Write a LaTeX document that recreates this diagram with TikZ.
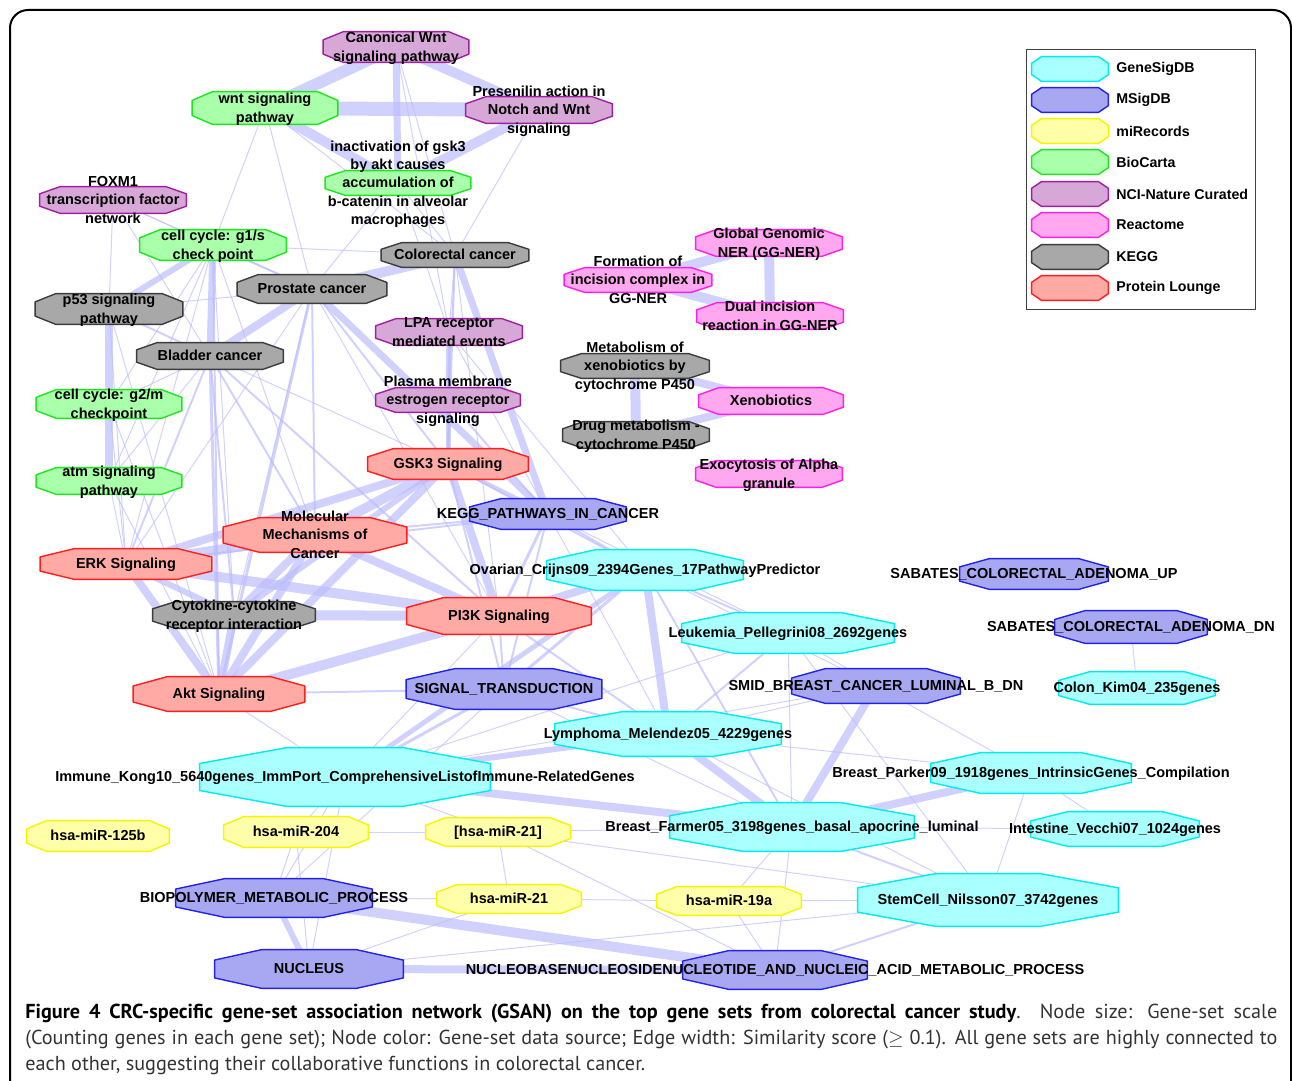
\documentclass[tikz,border=0pt]{standalone}
\usepackage{fontspec}
\setmainfont{Liberation Sans}
\newfontfamily\capfont{PT Sans}
\usetikzlibrary{calc}

% colours of the data sources
\definecolor{gsdbfill}{RGB}{170,255,255}  \definecolor{gsdbline}{RGB}{0,235,235}
\definecolor{msigfill}{RGB}{168,168,242}  \definecolor{msigline}{RGB}{35,35,230}
\definecolor{mirfill}{RGB}{255,255,170}   \definecolor{mirline}{RGB}{245,245,0}
\definecolor{biofill}{RGB}{170,255,170}   \definecolor{bioline}{RGB}{30,230,30}
\definecolor{ncifill}{RGB}{215,168,215}   \definecolor{nciline}{RGB}{160,30,160}
\definecolor{reactfill}{RGB}{255,168,240} \definecolor{reactline}{RGB}{255,30,230}
\definecolor{keggfill}{RGB}{168,168,168}  \definecolor{keggline}{RGB}{60,60,60}
\definecolor{plfill}{RGB}{255,170,165}    \definecolor{plline}{RGB}{255,30,30}
\definecolor{linkcol}{RGB}{185,185,255}

\pgfdeclarelayer{edgelayer}
\pgfdeclarelayer{shapelayer}
\pgfsetlayers{edgelayer,shapelayer,main}

\tikzset{
  gstext/.style={inner sep=0pt,font=\bfseries\fontsize{7.25}{9.2}\selectfont},
  gsshape/.style={line width=.7pt,line join=round},
  gsdb/.style={fill=gsdbfill,draw=gsdbline},
  msig/.style={fill=msigfill,draw=msigline},
  mir/.style={fill=mirfill,draw=mirline},
  bio/.style={fill=biofill,draw=bioline},
  nci/.style={fill=ncifill,draw=nciline},
  react/.style={fill=reactfill,draw=reactline},
  kegg/.style={fill=keggfill,draw=keggline},
  pl/.style={fill=plfill,draw=plline},
  link/.style={draw=linkcol,draw opacity=.65,line cap=round},
  legtext/.style={inner sep=0pt,anchor=west,font=\bfseries\fontsize{7.1}{9}\selectfont},
}

\newcommand\gslabel[1]{\makebox[0pt]{\smash{\raisebox{-2.4pt}{\begin{tabular}{@{}c@{}}#1\end{tabular}}}}}
% [inset] name, x, y, width, height, source, text
\newcommand\gsnode[8][.2]{%
  \node[gstext,minimum width=#5*0.5pt,minimum height=#6*0.5pt] (#2) at (#3,#4) {\gslabel{#8}};
  \begin{pgfonlayer}{shapelayer}
    \draw[gsshape,#7] ($(#2.north west)!#1!(#2.north east)$) -- ($(#2.north east)!#1!(#2.north west)$)
      -- ($(#2.north east)!.27!(#2.south east)$) -- ($(#2.south east)!.27!(#2.north east)$)
      -- ($(#2.south east)!#1!(#2.south west)$) -- ($(#2.south west)!#1!(#2.south east)$)
      -- ($(#2.south west)!.27!(#2.north west)$) -- ($(#2.north west)!.27!(#2.south west)$) -- cycle;
  \end{pgfonlayer}}

\begin{document}
\begin{tikzpicture}[x=0.5pt,y=-0.5pt]
\useasboundingbox (0,0) rectangle (1292,1081);
\draw[line width=1pt,rounded corners=9pt] (10,1081) -- (10,10) -- (1291,10) -- (1291,1081);

% gene sets
\gsnode[.14]{cwnt}{396}{47}{145}{30}{nci}{Canonical Wnt\\signaling pathway}
\gsnode[.14]{wnt}{265}{108}{145}{32}{bio}{wnt signaling\\pathway}
\gsnode[.14]{pres}{539}{110}{146}{26}{nci}{Presenilin action in\\Notch and Wnt\\signaling}
\gsnode[.14]{gskb}{398}{183}{145}{24}{bio}{inactivation of gsk3\\by akt causes\\accumulation of\\b-catenin in alveolar\\macrophages}
\gsnode[.14]{foxm}{113}{200}{146}{26}{nci}{FOXM1\\transcription factor\\network}
\gsnode[.14]{gones}{213}{245}{146}{30}{bio}{cell cycle: g1/s\\check point}
\gsnode[.14]{crc}{455}{255}{147}{24}{kegg}{Colorectal cancer}
\gsnode[.14]{prost}{312}{289}{149}{28}{kegg}{Prostate cancer}
\gsnode[.14]{pft}{109}{309}{147}{30}{kegg}{p53 signaling\\pathway}
\gsnode[.14]{lpa}{449}{332}{146}{26}{nci}{LPA receptor\\mediated events}
\gsnode[.14]{bladder}{210}{356}{146}{26}{kegg}{Bladder cancer}
\gsnode[.14]{pmer}{448}{400}{144}{24}{nci}{Plasma membrane\\estrogen receptor\\signaling}
\gsnode[.14]{gtwom}{109}{404}{145}{28}{bio}{cell cycle: g2/m\\checkpoint}
\gsnode[.14]{atm}{109}{481}{145}{26}{bio}{atm signaling\\pathway}
\gsnode[.16]{gsk}{448}{464}{160}{30}{pl}{GSK3 Signaling}
\gsnode[.14]{form}{638}{280}{147}{24}{react}{Formation of\\incision complex in\\GG-NER}
\gsnode[.14]{ggner}{769}{243}{146}{26}{react}{Global Genomic\\NER (GG-NER)}
\gsnode[.14]{dual}{770}{316}{146}{26}{react}{Dual incision\\reaction in GG-NER}
\gsnode[.14]{metxen}{635}{366}{148}{24}{kegg}{Metabolism of\\xenobiotics by\\cytochrome P450}
\gsnode[.14]{xeno}{771}{401}{144}{26}{react}{Xenobiotics}
\gsnode[.14]{drug}{636}{435}{146}{26}{kegg}{Drug metabolism -\\cytochrome P450}
\gsnode[.14]{exo}{769}{474}{146}{26}{react}{Exocytosis of Alpha\\granule}
\gsnode{keggpc}{548}{514}{156}{30}{msig}{KEGG\_PATHWAYS\_IN\_CANCER}
\gsnode{mmc}{315}{535}{183}{34}{pl}{Molecular\\Mechanisms of\\Cancer}
\gsnode{erk}{126}{564}{171}{30}{pl}{ERK Signaling}
\gsnode[.25]{ovar}{645}{570}{196}{40}{gsdb}{Ovarian\_Crijns09\_2394Genes\_17PathwayPredictor}
\gsnode[.14]{cyto}{234}{615}{162}{26}{kegg}{Cytokine-cytokine\\receptor interaction}
\gsnode{pik}{499}{616}{184}{36}{pl}{PI3K Signaling}
\gsnode[.25]{leuk}{788}{633}{212}{40}{gsdb}{Leukemia\_Pellegrini08\_2692genes}
\gsnode{sabup}{1034}{574}{148}{30}{msig}{SABATES\_COLORECTAL\_ADENOMA\_UP}
\gsnode{sabdn}{1131}{627}{152}{32}{msig}{SABATES\_COLORECTAL\_ADENOMA\_DN}
\gsnode{akt}{219}{694}{171}{34}{pl}{Akt Signaling}
\gsnode[.25]{sigt}{504}{689}{195}{40}{msig}{SIGNAL\_TRANSDUCTION}
\gsnode{smid}{876}{686}{168}{34}{msig}{SMID\_BREAST\_CANCER\_LUMINAL\_B\_DN}
\gsnode{colon}{1137}{688}{156}{32}{gsdb}{Colon\_Kim04\_235genes}
\gsnode[.3]{lymph}{668}{734}{226}{44}{gsdb}{Lymphoma\_Melendez05\_4229genes}
\gsnode[.3]{immune}{345}{777}{290}{58}{gsdb}{Immune\_Kong10\_5640genes\_ImmPort\_ComprehensiveListofImmune-RelatedGenes}
\gsnode[.25]{parker}{1031}{773}{200}{40}{gsdb}{Breast\_Parker09\_1918genes\_IntrinsicGenes\_Compilation}
\gsnode[.14]{mirb}{98}{836}{142}{30}{mir}{hsa-miR-125b}
\gsnode[.14]{mirc}{296}{832}{144}{30}{mir}{hsa-miR-204}
\gsnode[.14]{mird}{498}{832}{144}{28}{mir}{[hsa-miR-21]}
\gsnode[.3]{farmer}{792}{827}{244}{48}{gsdb}{Breast\_Farmer05\_3198genes\_basal\_apocrine\_luminal}
\gsnode[.22]{intest}{1115}{829}{168}{34}{gsdb}{Intestine\_Vecchi07\_1024genes}
\gsnode[.25]{biopoly}{274}{898}{196}{38}{msig}{BIOPOLYMER\_METABOLIC\_PROCESS}
\gsnode[.14]{mira}{509}{899}{144}{28}{mir}{hsa-miR-21}
\gsnode[.14]{mire}{729}{901}{144}{28}{mir}{hsa-miR-19a}
\gsnode[.3]{stem}{988}{900}{260}{52}{gsdb}{StemCell\_Nilsson07\_3742genes}
\gsnode[.25]{nucleus}{309}{969}{188}{38}{msig}{NUCLEUS}
\gsnode[.25]{nucleo}{775}{970}{184}{38}{msig}{NUCLEOBASENUCLEOSIDENUCLEOTIDE\_AND\_NUCLEIC\_ACID\_METABOLIC\_PROCESS}

% similarity edges: from/to/width in px
\begin{pgfonlayer}{edgelayer}
\foreach \a/\b/\w in {
  cwnt/wnt/12, cwnt/pres/10, cwnt/gskb/7, wnt/pres/14, wnt/gskb/10, pres/gskb/10,
  cwnt/crc/1, cwnt/lpa/1, wnt/gones/1, wnt/crc/1, wnt/prost/1, pres/crc/1,
  gskb/crc/1, gskb/prost/1, gskb/lpa/1,
  foxm/gones/1, foxm/pft/1, foxm/bladder/1, foxm/prost/1,
  gones/crc/1, gones/prost/2, gones/pft/6, gones/bladder/7, gones/gtwom/1, gones/atm/1,
  gones/erk/1, gones/akt/2, gones/cyto/1, gones/mmc/1,
  pft/gtwom/8, gtwom/atm/8, pft/prost/1, pft/bladder/2, pft/erk/1, pft/akt/1,
  prost/bladder/8, crc/prost/10, crc/keggpc/7, crc/gsk/2, crc/lpa/1, crc/pmer/1, crc/pik/1,
  prost/keggpc/7, prost/akt/3, prost/mmc/2, prost/erk/1, prost/gsk/2, prost/cyto/1, prost/pik/1,
  bladder/atm/1, bladder/gtwom/1, bladder/erk/2, bladder/akt/3, bladder/cyto/2,
  bladder/mmc/2, bladder/pik/2, bladder/gsk/1, gtwom/erk/1, gtwom/akt/1, atm/erk/1, atm/akt/1,
  lpa/pmer/5, pmer/gsk/5, lpa/gsk/2, lpa/keggpc/1, pmer/keggpc/2, lpa/ovar/1,
  gsk/mmc/10, gsk/erk/8, gsk/akt/8, gsk/pik/8, gsk/keggpc/4, gsk/cyto/6, gsk/sigt/2, gsk/ovar/2,
  form/ggner/10, form/dual/10, ggner/dual/10, metxen/drug/10, metxen/xeno/8, drug/xeno/8,
  mmc/erk/10, mmc/pik/8, mmc/akt/8, mmc/cyto/8, mmc/keggpc/2,
  erk/pik/10, erk/akt/8, erk/cyto/6, erk/keggpc/2, cyto/pik/10, cyto/akt/8,
  akt/pik/10, akt/sigt/2, akt/immune/1, pik/ovar/8, pik/keggpc/3, pik/sigt/2, pik/lymph/2, pik/immune/1,
  keggpc/ovar/2, keggpc/sigt/2, keggpc/lymph/1, keggpc/leuk/1,
  ovar/lymph/8, ovar/sigt/3, ovar/immune/5, ovar/leuk/2, ovar/farmer/2, ovar/smid/1,
  leuk/lymph/2, leuk/farmer/1, leuk/smid/1, leuk/immune/1, leuk/stem/1,
  sigt/lymph/2, sigt/immune/3, sigt/biopoly/1, sigt/farmer/1,
  smid/farmer/8, smid/parker/1, smid/lymph/1, smid/immune/1,
  lymph/farmer/8, lymph/immune/6, lymph/parker/1, lymph/stem/1,
  immune/farmer/8, immune/mirc/1, immune/mird/1, immune/biopoly/1, immune/nucleus/1,
  parker/farmer/8, parker/intest/1, parker/stem/1,
  farmer/stem/2, farmer/mire/1, farmer/nucleo/1, farmer/mird/1, farmer/intest/1,
  mirc/mird/1, mirc/biopoly/1, mirc/nucleus/1, mird/mira/1, mird/nucleo/1, mird/stem/1,
  biopoly/nucleo/10, biopoly/nucleus/6, biopoly/mira/1,
  nucleus/nucleo/8, nucleus/mira/1, nucleus/stem/1, nucleo/mire/1, nucleo/stem/2,
  mira/mire/1, mire/stem/1, sabdn/colon/1}
  \draw[link,line width=\w*0.5pt] (\a.center) -- (\b.center);
\end{pgfonlayer}

% legend
\draw[black!75,line width=.5pt] (1026,50) rectangle (1255,309);
\foreach \y/\s/\t [count=\i] in {69/gsdb/GeneSigDB, 100/msig/MSigDB, 131/mir/miRecords,
  162/bio/BioCarta, 194/nci/NCI-Nature Curated, 225/react/Reactome, 257/kegg/KEGG,
  288/pl/Protein Lounge} {
  \gsnode[.13]{leg\i}{1070}{\y}{76}{24}{\s}{}
  \node[legtext] (legt\i) at (1116,\y) {\t};
}

% caption
\node[anchor=west,inner sep=0pt,align=left,font=\capfont\fontsize{10.1}{13}\selectfont] (caption) at (25,1039)
  {\makebox[626pt][s]{\textbf{Figure 4 CRC-specific gene-set association network (GSAN) on the top gene sets from colorectal cancer study}\color{black!80}. Node size: Gene-set scale}\\
   \color{black!80}\makebox[626pt][s]{(Counting genes in each gene set); Node color: Gene-set data source; Edge width: Similarity score (\ensuremath{\geq} 0.1). All gene sets are highly connected to}\\
   \color{black!80}each other, suggesting their collaborative functions in colorectal cancer.};
\end{tikzpicture}
\end{document}
